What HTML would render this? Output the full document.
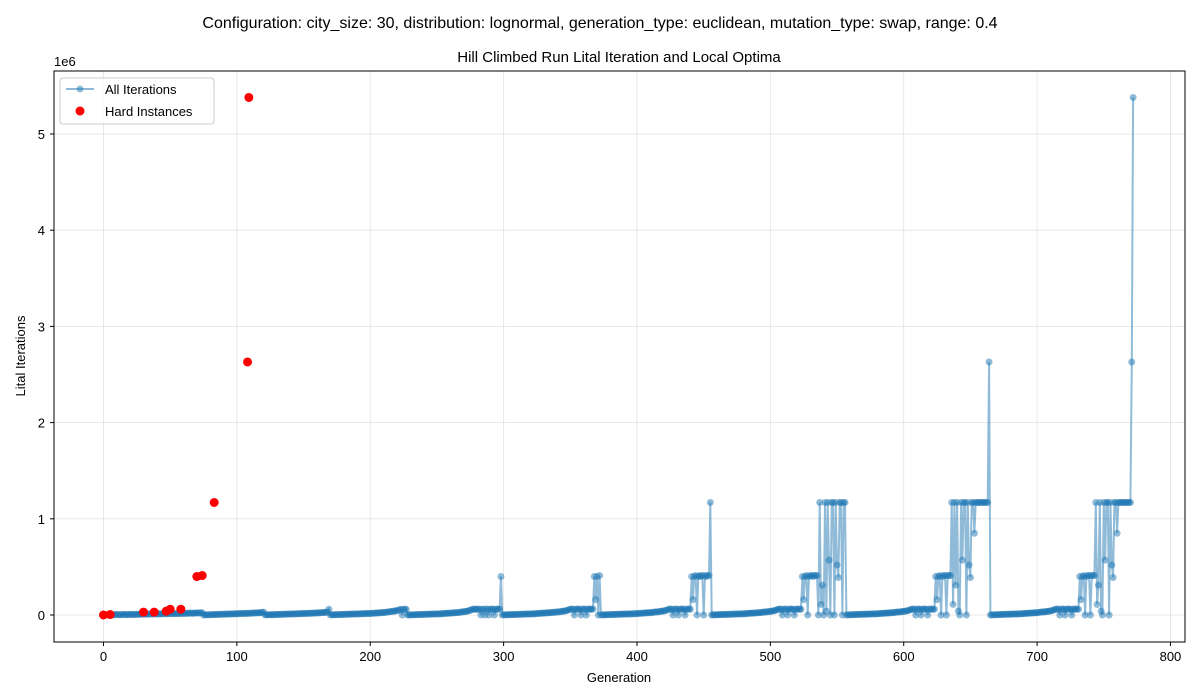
<!DOCTYPE html>
<html><head><meta charset="utf-8"><style>
body{margin:0;background:#fff;font-family:"Liberation Sans","DejaVu Sans",sans-serif}
svg{display:block}
</style></head><body>
<svg id="chart" width="1200" height="700" xmlns="http://www.w3.org/2000/svg" font-family="Liberation Sans, DejaVu Sans, sans-serif">
<text x="600" y="28" text-anchor="middle" font-size="16">Configuration: city_size: 30, distribution: lognormal, generation_type: euclidean, mutation_type: swap, range: 0.4</text>
<text x="619" y="62" text-anchor="middle" font-size="15">Hill Climbed Run Lital Iteration and Local Optima</text>
<g id="grid"></g>
<g id="marks"></g>
<rect x="54" y="71" width="1131" height="571" fill="none" stroke="#000" stroke-width="1"/>
<g id="axes"></g>
<text x="619" y="682" text-anchor="middle" font-size="13">Generation</text>
<text transform="translate(25,356) rotate(-90)" text-anchor="middle" font-size="13">Lital Iterations</text>
<text x="54" y="66" font-size="13">1e6</text>
<g>
<rect x="60" y="78" width="154" height="46" fill="#fff" fill-opacity="0.8" stroke="#ccc" rx="3"/>
<line x1="66" y1="89" x2="94" y2="89" stroke="#1f77b4" stroke-opacity="0.5" stroke-width="2"/>
<circle cx="80" cy="89" r="3.5" fill="#1f77b4" fill-opacity="0.5"/>
<text x="105" y="94" font-size="13">All Iterations</text>
<circle cx="80" cy="111" r="4.5" fill="#ff0000"/>
<text x="105" y="116" font-size="13">Hard Instances</text>
</g>
</svg>
<script>
const xTicks=[0,100,200,300,400,500,600,700,800];
const yTicks=[0,1,2,3,4,5];
const allValuesK=[
0,5,1,2,3,2,4,3,1,5,6,4,3,2,5,6,4,5,3,6,7,5,6,4,8,
7,8,6,9,10,8,10,9,7,11,10,12,9,13,11,12,10,13,12,11,14,15,13,12,16,
15,14,15,13,16,15,14,17,16,16,18,17,15,19,18,20,19,17,21,20,22,21,21,23,24,
0,2,1,3,2,4,3,5,4,6,5,7,6,8,7,9,8,10,9,11,10,12,11,13,12,
14,13,15,14,16,15,17,16,18,17,19,18,20,22,21,23,22,24,25,27,30,2,1,3,2,
3,4,2,5,4,6,5,7,6,8,7,9,8,10,9,11,10,12,11,13,12,14,13,15,14,
16,15,17,16,18,17,19,18,20,22,21,23,22,24,26,25,27,29,30,60,2,1,3,2,4,
3,5,4,6,5,7,6,8,7,9,8,10,9,11,10,12,11,13,12,14,13,15,14,16,15,
17,16,18,20,19,21,23,22,24,26,25,27,29,31,33,35,37,39,41,43,45,50,55,60,0,
60,60,60,1,0,2,1,3,2,4,3,5,4,6,5,7,6,8,7,9,8,10,9,11,10,
12,11,13,12,14,16,15,17,19,18,20,22,21,23,25,24,26,28,30,32,34,36,38,40,45,
50,55,60,62,60,58,62,60,0,61,60,0,62,60,0,61,60,62,0,60,61,60,62,400,0,
2,1,3,2,4,3,5,4,6,5,7,6,8,7,9,8,10,9,11,10,12,11,13,12,14,
16,15,17,19,18,20,22,21,23,25,24,26,28,27,30,32,31,34,36,38,40,42,45,50,55,
60,62,60,0,61,60,62,60,0,61,62,60,0,61,62,60,60,62,400,160,400,0,410,0,2,
1,3,2,4,3,5,4,6,5,7,6,8,7,9,8,10,9,11,10,12,11,13,12,14,13,
15,17,16,18,20,19,21,23,22,24,26,25,27,30,32,31,34,36,38,40,42,45,50,55,60,
62,60,0,61,60,62,0,60,61,62,60,0,61,60,62,60,400,160,400,410,0,400,410,400,410,
0,410,400,410,410,1170,0,2,1,3,2,4,3,5,4,6,5,7,6,8,7,9,8,10,9,
11,10,12,11,13,12,14,16,15,17,19,18,20,22,21,23,25,24,26,28,30,32,31,34,36,
38,40,42,45,50,55,60,62,60,0,61,60,62,0,60,61,62,60,0,61,60,62,60,60,400,
160,400,410,0,400,410,410,400,410,410,410,0,1170,110,310,0,1170,40,1170,570,0,1170,1170,0,1170,
520,390,1170,1170,0,1170,1170,0,1,3,2,4,3,5,4,6,5,7,6,8,7,9,8,10,9,
11,10,12,11,13,12,14,16,15,17,19,18,20,22,21,23,25,24,26,28,30,32,31,34,36,
38,40,42,45,50,55,60,62,60,0,61,60,62,0,60,61,62,60,0,61,60,62,60,60,400,
160,400,410,0,400,410,410,0,410,410,410,1170,110,1170,310,1170,40,0,1170,570,1170,1170,0,1170,520,
390,1170,1170,850,1170,1170,1170,1170,1170,1170,1170,1170,1170,1170,2630,0,2,1,3,2,4,3,5,4,6,
7,6,8,7,9,8,10,9,11,10,12,11,13,12,14,16,15,17,19,18,20,22,21,23,25,
24,26,28,30,32,31,34,36,38,40,42,45,50,55,60,62,60,0,61,60,62,0,60,61,62,
60,0,61,60,62,60,60,400,160,400,410,0,400,410,410,0,410,410,410,1170,110,310,1170,40,0,
1170,570,1170,1170,0,1170,520,390,1170,1170,850,1170,1170,1170,1170,1170,1170,1170,1170,1170,1170,2630,5380
];
const hardGen=[0,5,30,38,47,50,58,70,74,83,108,109];
const hardValuesK=[0,5,30,30,40,60,60,400,410,1170,2630,5380];

const NS='http://www.w3.org/2000/svg';
function X(g){return 103.5+g*1.3337;}
function Y(v){return 615-v/1e6*96.2;}
function mk(tag,attrs,parent){const e=document.createElementNS(NS,tag);for(const k in attrs)e.setAttribute(k,attrs[k]);parent.appendChild(e);return e;}
const grid=document.getElementById('grid'),axes=document.getElementById('axes'),marks=document.getElementById('marks');
xTicks.forEach(t=>{const x=X(t);
 const gl=mk('line',{x1:x,x2:x,y1:71,y2:642,stroke:'#b0b0b0','stroke-opacity':0.35,'stroke-width':0.8},grid);
 
 
 mk('line',{x1:x,x2:x,y1:642,y2:646,stroke:'#000'},axes);
 const tl=mk('text',{x:x,y:661,'text-anchor':'middle','font-size':13},axes);tl.textContent=t;
 
 
});
yTicks.forEach(t=>{const y=Y(t*1e6);
 const gl=mk('line',{x1:54,x2:1185,y1:y,y2:y,stroke:'#b0b0b0','stroke-opacity':0.35,'stroke-width':0.8},grid);
 
 
 mk('line',{x1:50,x2:54,y1:y,y2:y,stroke:'#000'},axes);
 const tl=mk('text',{x:45,y:y+5,'text-anchor':'end','font-size':13},axes);tl.textContent=t;
 
 
});
const pts=allValuesK.map((v,i)=>X(i).toFixed(1)+','+Y(v*1000).toFixed(1)).join(' ');
const line=mk('polyline',{points:pts,fill:'none',stroke:'#1f77b4','stroke-opacity':0.5,'stroke-width':2},marks);


allValuesK.forEach((v,i)=>{const c=mk('circle',{cx:X(i),cy:Y(v*1000),r:3.5,fill:'#1f77b4','fill-opacity':0.5},marks);
 
 
});
hardGen.forEach((g,i)=>{const c=mk('circle',{cx:X(g),cy:Y(hardValuesK[i]*1000),r:4.5,fill:'#ff0000'},marks);
 
 
});
</script>
</body></html>
